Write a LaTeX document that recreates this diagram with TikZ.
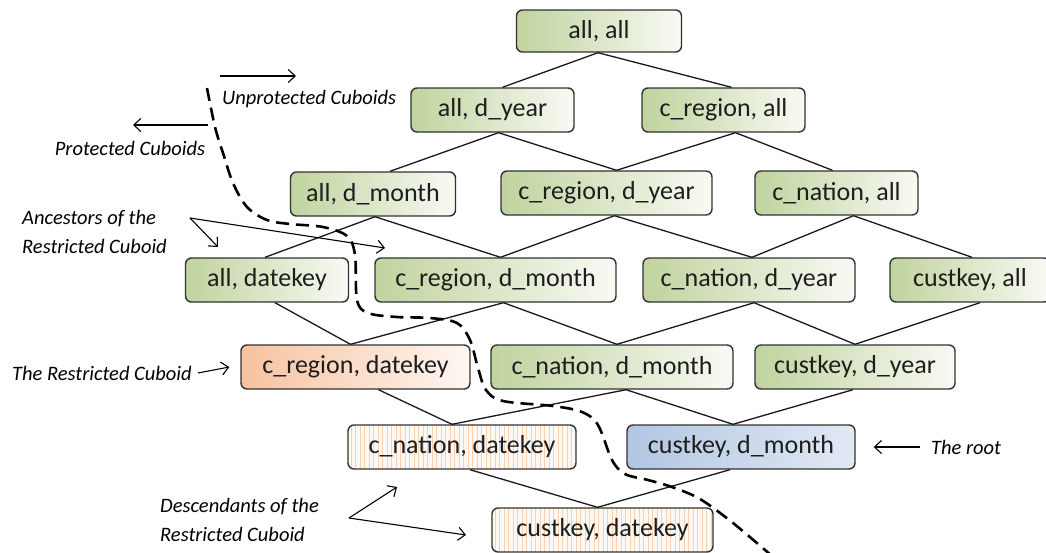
\documentclass[tikz,border=0pt]{standalone}
\usepackage{fontspec}
\setmainfont{Carlito}
\usetikzlibrary{arrows.meta}

\definecolor{gL}{RGB}{192,211,158}
\definecolor{gR}{RGB}{248,250,244}
\definecolor{oL}{RGB}{247,194,158}
\definecolor{oR}{RGB}{254,247,243}
\definecolor{bL}{RGB}{178,198,226}
\definecolor{bR}{RGB}{225,233,244}
\definecolor{sB}{RGB}{253,248,243}
\definecolor{sC}{RGB}{247,208,174}
\definecolor{frame}{RGB}{50,50,50}
\definecolor{ink}{RGB}{30,30,30}

\tikzset{
  cub/.style={rounded corners=6pt, draw=frame, line width=1.4pt,
    minimum height=44pt, inner sep=0pt, text=ink,
    font=\fontsize{26}{30}\selectfont},
  gbox/.style={cub, left color=gL, right color=gR},
  obox/.style={cub, left color=oL, right color=oR},
  bbox/.style={cub, left color=bL, right color=bR},
  sbox/.style={cub, fill=sB, path picture={
      \foreach \s in {3,7.5,...,260}{
        \draw[sC, line width=0.9pt]
          ([xshift=\s pt]path picture bounding box.north west) --
          ([xshift=\s pt]path picture bounding box.south west);}}},
  edge/.style={draw=black!90, line width=1.3pt},
  lbl/.style={font=\fontsize{20.5}{29}\selectfont\itshape, inner sep=0pt,
    text=black},
  arr/.style={draw=black, line width=1.1pt,
    -{Straight Barb[length=7pt,width=13pt,line width=1.1pt]}},
  boundary/.style={draw=black, line width=2.6pt,
    dash pattern=on 13pt off 7pt},
}

% lattice link: parent, bottom shift, child, top shift
\newcommand\lnk[4]{\draw[edge] ([xshift=#2pt]#1.south) -- ([xshift=#4pt]#3.north);}

\begin{document}
\begin{tikzpicture}[x=1pt,y=-1pt]
\useasboundingbox (0,0) rectangle (1046,552);

% cuboid lattice
\node[gbox, minimum width=165pt, minimum height=42pt] (aa) at (599,31) {all, all};

\node[gbox, minimum width=163pt] (ay) at (492.5,110) {all, d\_year};
\node[gbox, minimum width=163pt] (ra) at (723.5,110) {c\_region, all};

\node[gbox, minimum width=165pt] (am) at (373,194) {all, d\_month};
\node[gbox, minimum width=211pt] (ry) at (606.5,193) {c\_region, d\_year};
\node[gbox, minimum width=163pt] (na) at (836.5,193) {c\_nation, all};

\node[gbox, minimum width=163pt] (ak) at (267,280) {all, datekey};
\node[gbox, minimum width=241pt] (rm) at (495.5,280) {c\_region, d\_month};
\node[gbox, minimum width=212pt] (ny) at (749,280) {c\_nation, d\_year};
\node[gbox, minimum width=160pt] (ka) at (970,280) {custkey, all};

\node[obox, minimum width=229pt] (rk) at (355.5,367) {c\_region, datekey};
\node[gbox, minimum width=242pt] (nm) at (612,367) {c\_nation, d\_month};
\node[gbox, minimum width=200pt] (ky) at (855,367) {custkey, d\_year};

\node[sbox, minimum width=228pt] (nk) at (462,447) {c\_nation, datekey};
\node[bbox, minimum width=228pt] (km) at (741,447) {custkey, d\_month};

\node[sbox, minimum width=221pt] (kk) at (602.5,530) {custkey, datekey};

% lattice links
\lnk{aa}{-1}{ay}{10}
\lnk{aa}{-1}{ra}{8}
\lnk{ay}{6}{am}{17}
\lnk{ay}{6}{ry}{10}
\lnk{ra}{12}{ry}{10}
\lnk{ra}{12}{na}{-4}
\lnk{am}{2}{ak}{-2}
\lnk{am}{2}{rm}{5}
\lnk{ry}{8}{rm}{5}
\lnk{ry}{8}{ny}{3}
\lnk{na}{17}{ny}{3}
\lnk{na}{17}{ka}{2}
\lnk{ak}{8}{rk}{-5}
\lnk{rm}{8}{rk}{-5}
\lnk{rm}{8}{nm}{5}
\lnk{ny}{5}{nm}{5}
\lnk{ny}{5}{ky}{0}
\lnk{ka}{10}{ky}{0}
\lnk{rk}{23}{nk}{-10}
\lnk{nm}{14}{nk}{-10}
\lnk{nm}{14}{km}{-8}
\lnk{ky}{-2}{km}{-8}
\lnk{nk}{8}{kk}{-5}
\lnk{km}{-11}{kk}{-5}

% border between protected and unprotected cuboids
\draw[boundary] plot[smooth, tension=0.55] coordinates {
  (207,88) (215,127) (223,153) (233,183) (247,207) (267,220) (290,224)
  (323,227) (347,236) (355,255) (357,300) (368,313) (397,317) (430,318)
  (457,323) (470,340) (478,368) (486,390) (503,401) (553,406) (582,412)
  (598,425) (612,460) (625,474) (648,480) (672,487) (700,499) (733,523)
  (772,556)};

% annotations
\node[lbl, anchor=west] (unp) at (222,99) {Unprotected Cuboids};
\coordinate (u1) at (220,76);
\coordinate (u2) at (296,76);
\draw[arr] (u1) -- (u2);

\node[lbl] (pro) at (130,148) {Protected Cuboids};
\coordinate (p1) at (208,125);
\coordinate (p2) at (133,125);
\draw[arr] (p1) -- (p2);

\node[lbl, anchor=west, align=left] (anc) at (22,232) {Ancestors of the\\Restricted Cuboid};
\coordinate (a0) at (190,218);
\coordinate (a1) at (218,247);
\coordinate (a2) at (385,248);
\draw[arr] (a0) -- (a1);
\draw[arr] (a0) -- (a2);

\node[lbl, anchor=west] (rcl) at (12,373) {The Restricted Cuboid};
\draw[arr] ([xshift=6pt]rcl.east) -- ([xshift=-11pt]rk.west);

\node[lbl, anchor=west] (root) at (931,447) {The root};
\draw[arr] ([xshift=-11pt]root.west) -- ([xshift=18pt]km.east);

\node[lbl, anchor=west, align=left] (dsc) at (160,520) {Descendants of the\\Restricted Cuboid};
\coordinate (d0) at (349,518);
\coordinate (d1) at (397,487);
\coordinate (d2) at (466,535);
\draw[arr] (d0) -- (d1);
\draw[arr] (d0) -- (d2);
\end{tikzpicture}
\end{document}
